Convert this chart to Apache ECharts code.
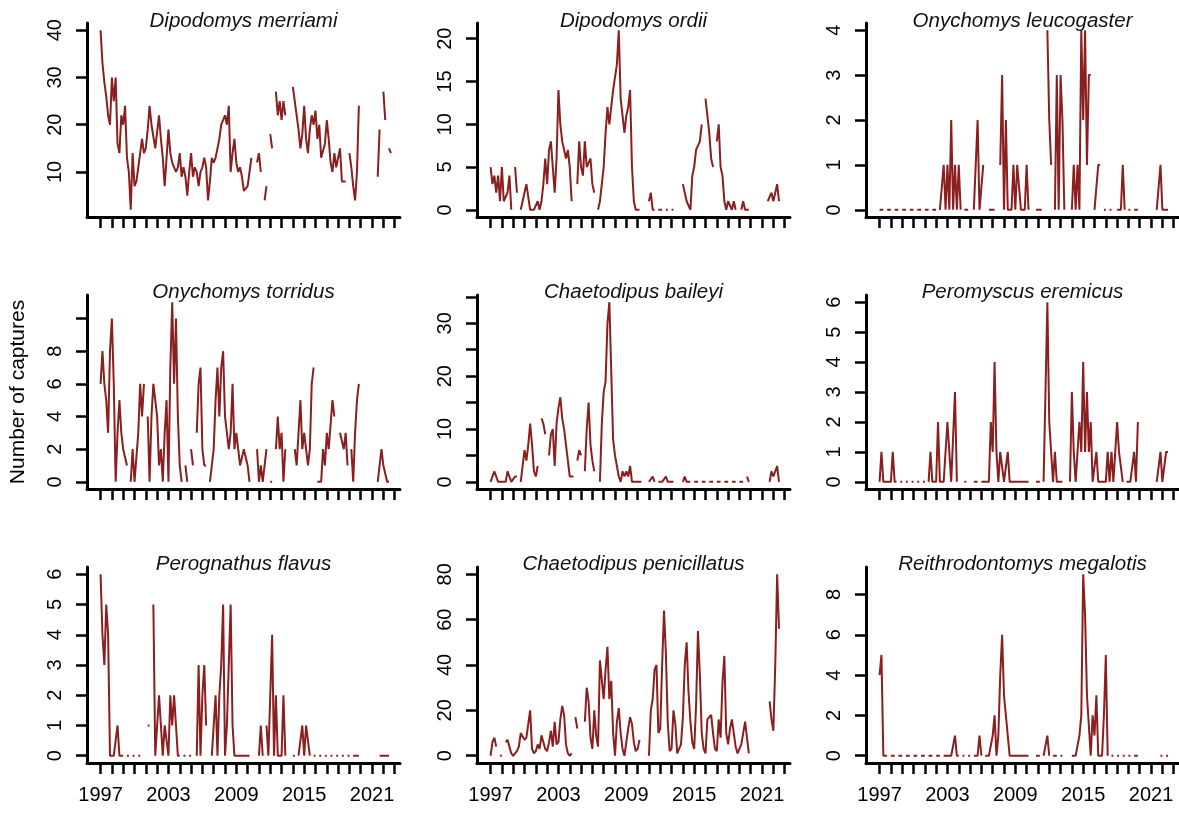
<!DOCTYPE html>
<html>
<head>
<meta charset="utf-8">
<script src="https://cdn.jsdelivr.net/npm/echarts@6/dist/echarts.min.js"></script>
<style>
  html, body { margin: 0; padding: 0; background: #fff; }
  #chart { width: 1179px; height: 816px; }
</style>
</head>
<body>
<div id="chart"></div>
<script>
// captures per census, one value every two months from 1997.0 (null = no census)
const _ = null;
const startYear = 1997;
const step = 1 / 6;

const merriami = [
  40,33,29,26,22,20,30,25,30,16,14,22,
  20,24,13,10,2,14,7,8,11,14,17,14,
  15,19,24,20,20,15,15,22,17,13,7,13,
  19,14,12,11,10,11,14,9,11,9,5,10,
  14,9,11,10,7,10,11,13,11,4,8,13,
  12,13,15,17,20,21,22,20,24,10,14,17,
  12,10,11,9,6,6,7,10,13,_,_,12,
  14,10,_,4,7,_,18,15,_,27,22,25,
  21,25,22,_,_,_,28,25,22,19,15,18,
  24,17,14,19,22,20,23,17,20,13,13,16,
  21,17,12,10,14,11,13,15,8,8,8,_,
  14,11,7,4,10,24,_,_,_,_,_,_,
  _,_,_,9,19,_,27,21,_,15,14
];
const ordii = [
  5,3,4,2,4,1,5,1,1,2,4,0,
  _,5,2,_,0,1,1,3,3,0,0,0,
  0,1,0,1,3,6,3,7,8,5,2,6,
  14,10,8,8,6,7,5,1,_,_,3,8,
  5,4,8,5,5,6,3,2,_,0,1,3,
  5,9,12,10,12,14,14,17,21,13,11,9,
  11,12,14,5,1,0,0,0,_,_,_,_,
  1,2,0,0,_,0,0,0,_,0,0,_,
  0,0,_,_,_,_,3,2,1,1,0,4,
  5,7,7,8,10,_,13,11,9,6,5,_,
  8,10,5,4,1,0,1,1,0,1,0,_,
  _,0,1,0,0,0,_,_,_,_,_,_,
  _,_,_,1,1,2,1,2,3,1
];
const leucogaster = [
  0,0,0,_,0,0,0,_,0,0,0,_,
  0,0,0,_,0,0,0,_,0,0,0,_,
  0,0,0,_,0,0,0,_,0,0,1,0,
  1,0,2,0,1,0,1,0,_,0,0,0,
  _,_,0,0,2,0,0,1,_,_,0,0,
  0,0,_,_,1,3,0,2,0,0,0,1,
  0,1,1,0,0,0,1,0,_,_,_,0,
  0,0,0,_,_,4,2,1,_,0,3,0,
  3,2,0,_,_,_,0,1,0,1,0,4,
  2,4,1,3,3,_,0,0,1,1,_,0,
  0,_,0,0,_,_,0,0,0,1,0,_,
  0,0,_,0,0,0,_,_,_,_,_,_,
  _,_,_,0,0,1,0,0,0,0
];
const torridus = [
  6,8,6,5,3,8,10,6,0,3,5,3,
  2,2,1,_,0,2,0,0,3,6,4,6,
  _,4,0,4,6,5,4,1,2,0,3,5,
  0,7,11,6,10,4,1,0,_,1,0,_,
  2,1,_,3,6,7,2,1,1,_,0,1,
  2,5,7,4,7,8,4,3,2,3,6,2,
  3,3,1,1,2,2,1,0,_,_,_,2,
  0,1,0,1,2,_,0,0,_,2,4,2,
  3,0,2,_,_,_,_,2,1,3,5,2,
  3,2,1,2,6,7,_,0,0,0,2,1,
  3,2,2,5,4,_,_,3,3,2,3,1,
  _,2,0,3,5,6,_,_,_,_,_,_,
  _,_,_,0,0,2,1,1,0,0
];
const baileyi = [
  0,1,2,2,0,0,0,0,0,2,1,0,
  0,1,1,_,0,0,6,4,7,11,7,2,
  1,3,_,12,11,9,_,5,9,10,3,11,
  14,16,12,10,7,4,1,1,1,_,4,6,
  5,_,2,10,15,7,4,2,_,_,0,11,
  17,19,30,34,21,8,5,3,1,0,2,1,
  2,1,3,0,0,0,0,0,0,_,_,_,
  0,0,1,0,_,0,0,0,0,1,0,0,
  0,0,_,_,_,_,0,1,0,0,0,_,
  0,0,0,_,0,0,0,_,0,0,0,_,
  0,0,0,_,0,0,0,_,0,0,0,_,
  0,0,0,_,1,0,_,_,_,_,_,_,
  _,_,_,_,0,2,1,2,3,0
];
const eremicus = [
  0,1,0,0,0,0,0,1,0,0,_,0,
  0,_,0,0,_,0,0,_,0,0,_,0,
  0,_,0,1,0,0,0,2,0,0,0,0,
  2,1,0,0,3,0,_,_,_,0,0,_,
  _,_,0,0,0,_,0,0,0,0,0,2,
  1,4,1,0,1,1,0,0,1,0,0,0,
  0,0,0,0,0,0,0,0,_,_,_,0,
  0,0,_,0,0,6,2,2,0,1,0,0,
  0,0,_,_,_,0,3,1,0,0,2,1,
  4,1,3,1,2,0,0,1,0,0,0,0,
  0,1,0,1,0,0,2,1,1,0,_,0,
  0,0,0,1,0,2,_,_,_,_,_,_,
  _,_,_,0,0,1,0,0,1,1
];
const flavus = [
  6,4,3,5,4,0,0,0,0,1,0,0,
  0,_,0,0,_,0,0,_,0,0,_,0,
  _,1,1,_,5,0,1,2,1,0,1,1,
  0,2,1,2,1,0,0,_,0,0,_,0,
  0,_,_,0,3,0,2,3,1,_,_,0,
  0,2,0,2,3,5,0,1,3,5,1,0,
  0,0,0,0,0,0,0,0,_,_,_,_,
  0,1,0,_,1,0,2,4,0,2,0,0,
  0,2,0,_,_,_,0,0,_,0,0,1,
  0,1,1,0,_,0,0,_,0,0,_,0,
  0,_,0,0,_,0,0,_,0,0,_,0,
  0,_,0,0,0,0,_,_,_,_,_,_,
  _,_,_,_,0,0,0,0,0,0
];
const penicillatus = [
  0,6,8,4,_,0,0,_,6,7,4,1,
  0,1,2,4,10,10,7,8,14,20,3,1,
  2,5,3,9,6,3,2,6,11,4,15,5,
  6,16,22,18,5,1,0,1,_,17,12,_,
  _,_,15,30,24,8,3,20,9,4,42,42,
  25,38,48,25,33,10,0,15,21,10,3,0,
  0,12,17,14,6,2,3,7,_,_,_,_,
  0,20,25,38,40,10,12,40,64,45,14,2,
  3,20,14,1,1,5,17,40,50,28,15,6,
  3,22,55,36,10,3,1,16,17,18,10,3,
  2,16,8,32,44,10,5,12,16,10,4,1,
  3,5,10,15,8,1,_,_,_,_,_,_,
  _,_,_,_,24,16,11,40,80,56
];
const megalotis = [
  4,5,0,0,0,_,0,0,0,_,0,0,
  0,_,0,0,0,_,0,0,0,_,0,0,
  0,_,0,0,0,_,0,0,0,_,0,0,
  0,0,0,0,1,0,0,_,0,0,_,0,
  0,_,0,0,0,1,0,_,0,0,0,0,
  1,2,0,1,4,6,3,3,1,0,0,0,
  0,0,0,0,0,0,0,0,_,_,_,0,
  0,0,_,0,0,1,0,_,0,0,0,_,
  0,0,_,_,_,_,0,0,0,0,1,2,
  9,7,3,3,0,2,1,3,0,0,0,2,
  5,0,_,0,0,_,0,0,_,0,0,_,
  0,0,_,0,0,0,_,_,_,_,_,_,
  _,_,_,_,_,0,0,_,0,0
];

const species = [
  'Dipodomys merriami', 'Dipodomys ordii', 'Onychomys leucogaster',
  'Onychomys torridus', 'Chaetodipus baileyi', 'Peromyscus eremicus',
  'Perognathus flavus', 'Chaetodipus penicillatus', 'Reithrodontomys megalotis'
];
const seriesValues = [merriami, ordii, leucogaster, torridus, baileyi, eremicus, flavus, penicillatus, megalotis];

const yearTicks = [];
for (let y = 1997; y <= 2023; y++) yearTicks.push(y);
const yearLabels = [1997, 2003, 2009, 2015, 2021];

// y axis ticks / labels per panel
const yTicks = [
  [10, 20, 30, 40], [0, 5, 10, 15, 20], [0, 1, 2, 3, 4],
  [0, 2, 4, 6, 8, 10], [0, 5, 10, 15, 20, 25, 30, 35], [0, 1, 2, 3, 4, 5, 6],
  [0, 1, 2, 3, 4, 5, 6], [0, 20, 40, 60, 80], [0, 2, 4, 6, 8]
];
const yLabels = [
  [10, 20, 30, 40], [0, 5, 10, 15, 20], [0, 1, 2, 3, 4],
  [0, 2, 4, 6, 8], [0, 10, 20, 30], [0, 1, 2, 3, 4, 5, 6],
  [0, 1, 2, 3, 4, 5, 6], [0, 20, 40, 60, 80], [0, 2, 4, 6, 8]
];
const yRange = [
  [0.48, 41.52], [-0.84, 21.84], [-0.16, 4.16],
  [-0.44, 11.44], [-1.36, 35.36], [-0.24, 6.24],
  [-0.24, 6.24], [-3.2, 83.2], [-0.36, 9.36]
];

const FONT = '"Liberation Sans", Arial, sans-serif';
const RED = '#8b1f1f';
const colLeft = [87, 477, 866];
const rowTop = [23, 295, 567];
const plotW = 313, plotH = 194;

const grids = [], xAxes = [], yAxes = [], titles = [], series = [];
species.forEach(function (name, k) {
  const col = k % 3, row = Math.floor(k / 3);
  grids.push({ left: colLeft[col], top: rowTop[row], width: plotW, height: row === 2 ? 196 : plotH });
  titles.push({
    text: name,
    left: colLeft[col] + plotW / 2,
    top: rowTop[row] - (row === 0 ? 12 : 13),
    textAlign: 'center',
    padding: 0,
    textStyle: { fontFamily: FONT, fontSize: 20.5, fontStyle: 'italic', fontWeight: 'normal', color: '#111' }
  });
  xAxes.push({
    type: 'value', gridIndex: k, min: 1995.8, max: 2023.47,
    splitLine: { show: false },
    axisLine: { show: true, onZero: false, lineStyle: { color: '#000', width: 3 } },
    axisTick: { show: true, customValues: yearTicks, length: 11, lineStyle: { color: '#000', width: 2.5 } },
    axisLabel: {
      show: row === 2, customValues: yearLabels, margin: 22, fontSize: 20, color: '#000', fontFamily: FONT,
      formatter: function (v) { return String(v); }
    }
  });
  const ya = {
    type: 'value', gridIndex: k, min: yRange[k][0], max: yRange[k][1],
    splitLine: { show: false },
    axisLine: { show: true, onZero: false, lineStyle: { color: '#000', width: 3 } },
    axisTick: { show: true, customValues: yTicks[k], length: 11, lineStyle: { color: '#000', width: 2.5 } },
    axisLabel: { customValues: yLabels[k], rotate: 90, margin: 22, fontSize: 20, color: '#000', fontFamily: FONT }
  };
  if (k === 3) {
    ya.name = 'Number of captures';
    ya.nameLocation = 'middle';
    ya.nameGap = 58;
    ya.nameTextStyle = { fontSize: 21, color: '#000', fontFamily: FONT };
  }
  yAxes.push(ya);
  series.push({
    type: 'line', xAxisIndex: k, yAxisIndex: k,
    showSymbol: false, connectNulls: false, clip: true,
    lineStyle: { color: RED, width: 2 },
    data: seriesValues[k].map(function (v, i) { return [startYear + i * step, v]; })
  });
});

const chart = echarts.init(document.getElementById('chart'));
chart.setOption({
  animation: false,
  backgroundColor: '#fff',
  title: titles,
  grid: grids,
  xAxis: xAxes,
  yAxis: yAxes,
  series: series
});
</script>
</body>
</html>
